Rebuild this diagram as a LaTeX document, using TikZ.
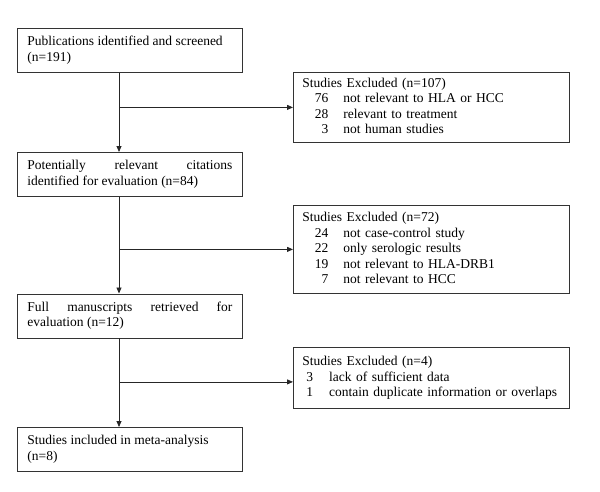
\documentclass[tikz,border=0pt]{standalone}
\usepackage{fontspec}
\setmainfont{Liberation Serif}
\usetikzlibrary{arrows.meta}

\begin{document}
\begin{tikzpicture}[x=1pt,y=-1pt,
  stagebox/.style={draw=black!80,line width=0.8pt,text width=205pt,align=justify,inner xsep=10pt,inner ysep=0pt,
    minimum height=44pt,anchor=north west,font=\fontsize{13.5}{15.5}\selectfont},
  exclbox/.style={draw=black!80,line width=0.8pt,text width=258pt,inner xsep=9pt,inner ysep=0pt,
    anchor=north west,font=\fontsize{13.5}{15.5}\selectfont},
  flow/.style={draw=black!85,line width=0.8pt,-{Triangle[length=6pt,width=5pt]}}]

\useasboundingbox (0,0) rectangle (600,491);

% main stages
\node[stagebox] (pub) at (17,28) {Publications identified and screened\\(n=191)};
\node[stagebox] (pot) at (17,152) {Potentially relevant citations\linebreak identified for evaluation (n=84)};
\node[stagebox] (full) at (17,293.5) {Full manuscripts retrieved for\linebreak evaluation (n=12)};
\node[stagebox] (incl) at (17,427) {Studies included in meta-analysis\\(n=8)};

% exclusions
\node[exclbox,minimum height=70pt] (ex1) at (293,72) {%
  \begin{tabular}{@{\hspace{12.5pt}}r@{\hspace{15pt}}l}
  \multicolumn{2}{@{}l}{Studies Excluded (n=107)}\\
  76 & not relevant to HLA or HCC\\
  28 & relevant to treatment\\
  3 & not human studies
  \end{tabular}};
\node[exclbox,minimum height=88pt] (ex2) at (293,205) {%
  \begin{tabular}{@{\hspace{12.5pt}}r@{\hspace{15pt}}l}
  \multicolumn{2}{@{}l}{Studies Excluded (n=72)}\\
  24 & not case-control study\\
  22 & only serologic results\\
  19 & not relevant to HLA-DRB1\\
  7 & not relevant to HCC
  \end{tabular}};
\node[exclbox,minimum height=61pt] (ex3) at (293,347) {%
  \begin{tabular}{@{\hspace{4pt}}r@{\hspace{16pt}}l}
  \multicolumn{2}{@{}l}{Studies Excluded (n=4)}\\
  3 & lack of sufficient data\\
  1 & contain duplicate information or overlaps
  \end{tabular}};

\coordinate (spine) at (119,0);
\coordinate (ex3in) at ([yshift=-4pt]ex3.west);

% connectors
\draw[flow] (pub.south -| spine) -- (pot.north -| spine);
\draw[flow] (pot.south -| spine) -- (full.north -| spine);
\draw[flow] (full.south -| spine) -- (incl.north -| spine);
\draw[flow] (ex1.west -| spine) -- (ex1.west);
\draw[flow] (ex2.west -| spine) -- (ex2.west);
\draw[flow] (ex3in -| spine) -- (ex3in);

\end{tikzpicture}
\end{document}
